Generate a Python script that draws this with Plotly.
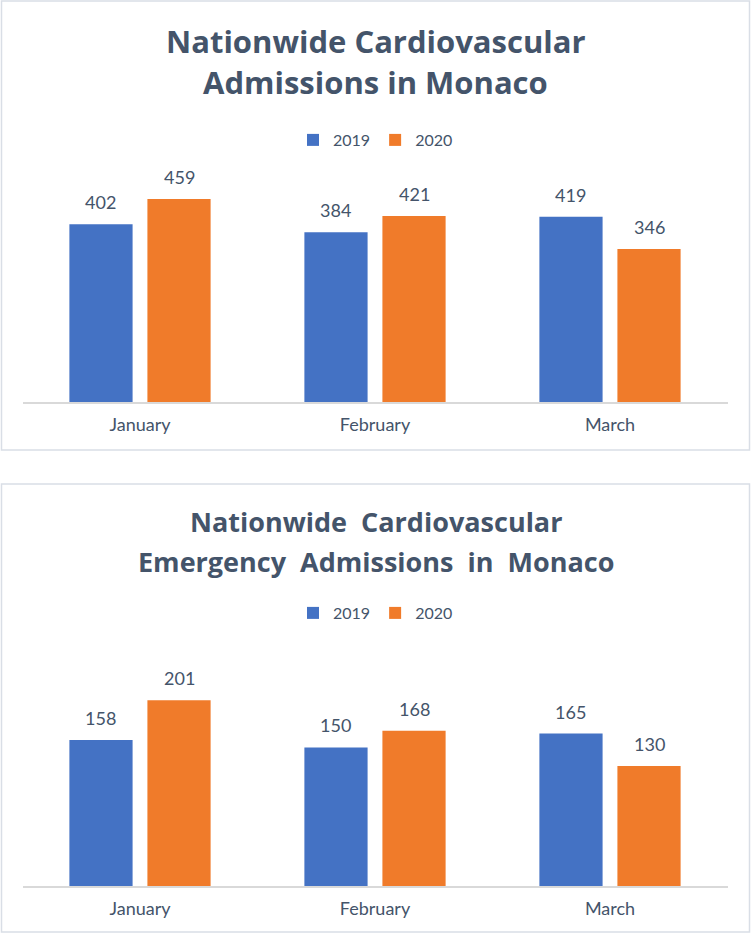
import plotly.graph_objects as go

months = ["January", "February", "March"]
series_names = ["2019", "2020"]
admissions_2019 = [402, 384, 419]
admissions_2020 = [459, 421, 346]
emergency_2019 = [158, 150, 165]
emergency_2020 = [201, 168, 130]
title_top = ["Nationwide Cardiovascular", "Admissions in Monaco"]
title_bottom = ["Nationwide  Cardiovascular", "Emergency  Admissions  in  Monaco"]

W, H = 751, 935
FONT = "Lato, 'Open Sans', sans-serif"
TFONT = "'Open Sans', Lato, sans-serif"
TXT = "#44546A"
BLUE = "#4472C4"
ORANGE = "#F07B2A"
GRID = "#D9D9D9"

def py(px):
    return 1 - px / H

fig = go.Figure()

panels = [
    dict(vals=[admissions_2019, admissions_2020], xa="x", ya="y", leg="legend", rng=[0, 500]),
    dict(vals=[emergency_2019, emergency_2020], xa="x2", ya="y2", leg="legend2", rng=[0, 250]),
]
colors = [BLUE, ORANGE]
offsets = [-0.166, 0.166]

for p in panels:
    for i, (name, vals) in enumerate(zip(series_names, p["vals"])):
        fig.add_trace(go.Bar(
            x=months, y=vals, name=name, xaxis=p["xa"], yaxis=p["ya"],
            legend=p["leg"], marker=dict(color=colors[i], line=dict(width=0)),
            hoverinfo="x+y+name",
        ))
        for j, v in enumerate(vals):
            fig.add_annotation(
                x=j + offsets[i], y=v, xref=p["xa"], yref=p["ya"],
                text=str(v), showarrow=False, yanchor="bottom", yshift=9,
                font=dict(family=FONT, size=18, color=TXT),
            )

xdom = [22.5 / W, 727.5 / W]
axis_common = dict(showline=True, linecolor=GRID, linewidth=1.5, showgrid=False,
                   ticks="outside", ticklen=6, tickcolor="rgba(0,0,0,0)",
                   tickfont=dict(family=FONT, size=18, color=TXT), fixedrange=True)
yaxis_common = dict(visible=False, showgrid=False, zeroline=False, fixedrange=True)

fig.update_layout(
    width=W, height=H,
    margin=dict(l=0, r=0, t=0, b=0),
    paper_bgcolor="white", plot_bgcolor="white",
    barmode="group", bargap=0.336, bargroupgap=0.19,
    xaxis=dict(domain=xdom, anchor="y", **axis_common),
    yaxis=dict(domain=[py(402), py(181)], range=panels[0]["rng"], anchor="x", **yaxis_common),
    xaxis2=dict(domain=xdom, anchor="y2", **axis_common),
    yaxis2=dict(domain=[py(886), py(655)], range=panels[1]["rng"], anchor="x2", **yaxis_common),
    legend=dict(orientation="h", x=0.5, xanchor="center", y=py(140), yanchor="middle",
                font=dict(family=FONT, size=16, color=TXT), itemwidth=30,
                bgcolor="rgba(0,0,0,0)"),
    legend2=dict(orientation="h", x=0.5, xanchor="center", y=py(613), yanchor="middle",
                 font=dict(family=FONT, size=16, color=TXT), itemwidth=30,
                 bgcolor="rgba(0,0,0,0)"),
    showlegend=True,
)

# panel borders
for (t, b) in [(1, 450), (484, 932)]:
    fig.add_shape(type="rect", xref="paper", yref="paper",
                  x0=1.5 / W, x1=749.5 / W, y0=py(b), y1=py(t),
                  line=dict(color="#D9DEE6", width=1.5), fillcolor="rgba(0,0,0,0)",
                  layer="below")

# titles, one annotation per line
for lines, centers, size in [(title_top, (41, 82), 31), (title_bottom, (521, 561), 27)]:
    for text, cy in zip(lines, centers):
        fig.add_annotation(x=0.5, y=py(cy), xref="paper", yref="paper", text=f"<b>{text}</b>",
                           showarrow=False, xanchor="center", yanchor="middle",
                           font=dict(family=TFONT, size=size, color=TXT))

fig.write_html("out.html", config={"displayModeBar": False},
               post_script="document.body.style.margin='0';")
